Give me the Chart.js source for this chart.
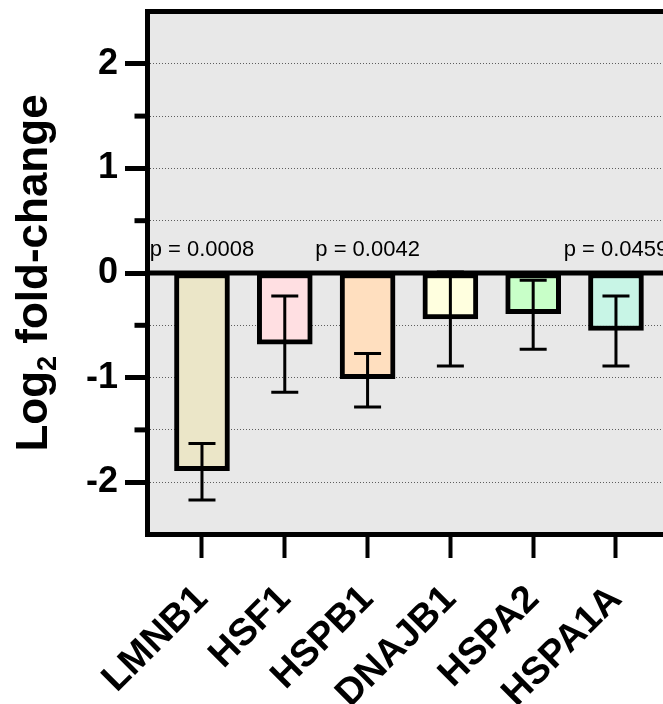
<!DOCTYPE html>
<html>
<head>
<meta charset="utf-8">
<script src="https://cdn.jsdelivr.net/npm/chart.js@4.4.1/dist/chart.umd.min.js"></script>
<style>
  html, body { margin: 0; padding: 0; background: #fff; overflow: hidden; }
  #wrap { position: relative; width: 663px; height: 704px; }
</style>
</head>
<body>
<div id="wrap"><canvas id="chartFold"></canvas></div>
<script>
const categories = ['LMNB1', 'HSF1', 'HSPB1', 'DNAJB1', 'HSPA2', 'HSPA1A'];
const means = [-1.89, -0.68, -1.01, -0.44, -0.39, -0.55];
const errHigh = [-1.63, -0.22, -0.77, 0.01, -0.07, -0.22];
const errLow = [-2.17, -1.14, -1.28, -0.89, -0.73, -0.89];
const pLabels = ['p = 0.0008', '', 'p = 0.0042', '', '', 'p = 0.0459'];
const barColors = ['#ebe6c8', '#ffdfe2', '#ffdfbf', '#ffffdf', '#c8ffc8', '#c8f5e6'];

const FONT = '"Liberation Sans", Arial, sans-serif';

// plot background, error bars, zero line, p-values, top frame, minor ticks and axis title
const decorations = {
  id: 'decorations',
  beforeDraw(chart) {
    const { ctx, chartArea: a } = chart;
    ctx.save();
    ctx.fillStyle = '#e8e8e8';
    ctx.fillRect(a.left, a.top, a.right - a.left, a.bottom - a.top);
    ctx.restore();
  },
  afterDatasetsDraw(chart) {
    const { ctx, chartArea: a, scales: { x, y } } = chart;
    ctx.save();
    ctx.strokeStyle = '#000';
    ctx.lineWidth = 3;
    means.forEach((m, i) => {
      const px = x.getPixelForValue(i), hi = y.getPixelForValue(errHigh[i]), lo = y.getPixelForValue(errLow[i]);
      ctx.beginPath();
      ctx.moveTo(px, hi); ctx.lineTo(px, lo);
      ctx.moveTo(px - 13.5, hi); ctx.lineTo(px + 13.5, hi);
      ctx.moveTo(px - 13.5, lo); ctx.lineTo(px + 13.5, lo);
      ctx.stroke();
    });
    const y0 = y.getPixelForValue(0);
    ctx.lineWidth = 5;
    ctx.beginPath(); ctx.moveTo(a.left, y0); ctx.lineTo(a.right, y0); ctx.stroke();

    ctx.fillStyle = '#000';
    ctx.font = `22px ${FONT}`;
    ctx.textAlign = 'center';
    ctx.textBaseline = 'alphabetic';
    pLabels.forEach((t, i) => { if (t) ctx.fillText(t, x.getPixelForValue(i), y0 - 17); });
    ctx.restore();
  },
  afterDraw(chart) {
    const { ctx, chartArea: a, scales: { y } } = chart;
    ctx.save();
    ctx.strokeStyle = '#000';
    ctx.lineWidth = 5;
    ctx.beginPath(); ctx.moveTo(a.left - 2.5, a.top); ctx.lineTo(a.right, a.top); ctx.stroke();

    // short ticks at the half steps
    y.ticks.forEach(t => {
      if (Number.isInteger(t.value) || Math.abs(t.value) >= 2.5) return;
      const py = y.getPixelForValue(t.value);
      ctx.beginPath(); ctx.moveTo(y.right - 13, py); ctx.lineTo(y.right, py); ctx.stroke();
    });

    // rotated title with a real subscript
    const parts = [
      { t: 'Log', f: `bold 44px ${FONT}`, dy: 0 },
      { t: '2', f: `bold 27px ${FONT}`, dy: 9 },
      { t: ' fold-change', f: `bold 44px ${FONT}`, dy: 0 }
    ];
    const widths = parts.map(p => { ctx.font = p.f; return ctx.measureText(p.t).width; });
    const total = widths.reduce((s, w) => s + w, 0);
    ctx.translate(32, (a.top + a.bottom) / 2);
    ctx.rotate(-Math.PI / 2);
    ctx.fillStyle = '#000';
    ctx.textAlign = 'left';
    ctx.textBaseline = 'alphabetic';
    let cx = -total / 2;
    parts.forEach((p, i) => { ctx.font = p.f; ctx.fillText(p.t, cx, 15 + p.dy); cx += widths[i]; });
    ctx.restore();
  }
};

(() => {
  'use strict'
  const ctx = document.getElementById('chartFold').getContext('2d');
  new Chart(ctx, {
    type: 'bar',
    data: {
      datasets: [{
        data: means.map((v, i) => ({ x: i, y: v })),
        backgroundColor: barColors,
        borderColor: '#000',
        borderWidth: 5,
        borderSkipped: false,
        barThickness: 55
      }]
    },
    options: {
      responsive: true,
      maintainAspectRatio: false,
      animation: false,
      layout: { padding: { top: 11.5, left: 0, right: 0, bottom: 0 } },
      plugins: { legend: { display: false }, tooltip: { enabled: false } },
      scales: {
        x: {
          type: 'linear',
          min: -0.658,
          max: 5.568,
          offset: false,
          afterBuildTicks: s => { s.ticks = categories.map((c, i) => ({ value: i })); },
          afterFit: s => { s.height = 169.5; s.paddingLeft = 0; s.paddingRight = 0; },
          border: { color: '#000', width: 5 },
          grid: { offset: false, drawOnChartArea: false, drawTicks: true, tickLength: 23.5, tickWidth: 4, tickColor: '#000' },
          ticks: {
            autoSkip: false, minRotation: 45, maxRotation: 45, padding: 19,
            color: '#000', font: { family: FONT, size: 38, weight: 'bold' },
            callback: v => categories[v]
          }
        },
        y: {
          min: -2.5,
          max: 2.5,
          afterFit: s => { s.width = 147.5; s.paddingTop = 0; s.paddingBottom = 0; },
          border: { color: '#000', width: 5, dash: [1, 2] },
          grid: {
            drawTicks: true, tickLength: 22.5, tickWidth: 5,
            tickColor: c => Number.isInteger(c.tick.value) ? '#000' : 'transparent',
            color: c => (c.tick.value === 0 || Math.abs(c.tick.value) >= 2.5) ? 'transparent' : 'rgba(0,0,0,0.6)',
            lineWidth: 1
          },
          ticks: {
            stepSize: 0.5, autoSkip: false, padding: 7,
            color: '#000', font: { family: FONT, size: 36, weight: 'bold' },
            callback: v => Number.isInteger(v) ? String(v) : ''
          }
        }
      }
    },
    plugins: [decorations]
  });
})();
</script>
</body>
</html>
